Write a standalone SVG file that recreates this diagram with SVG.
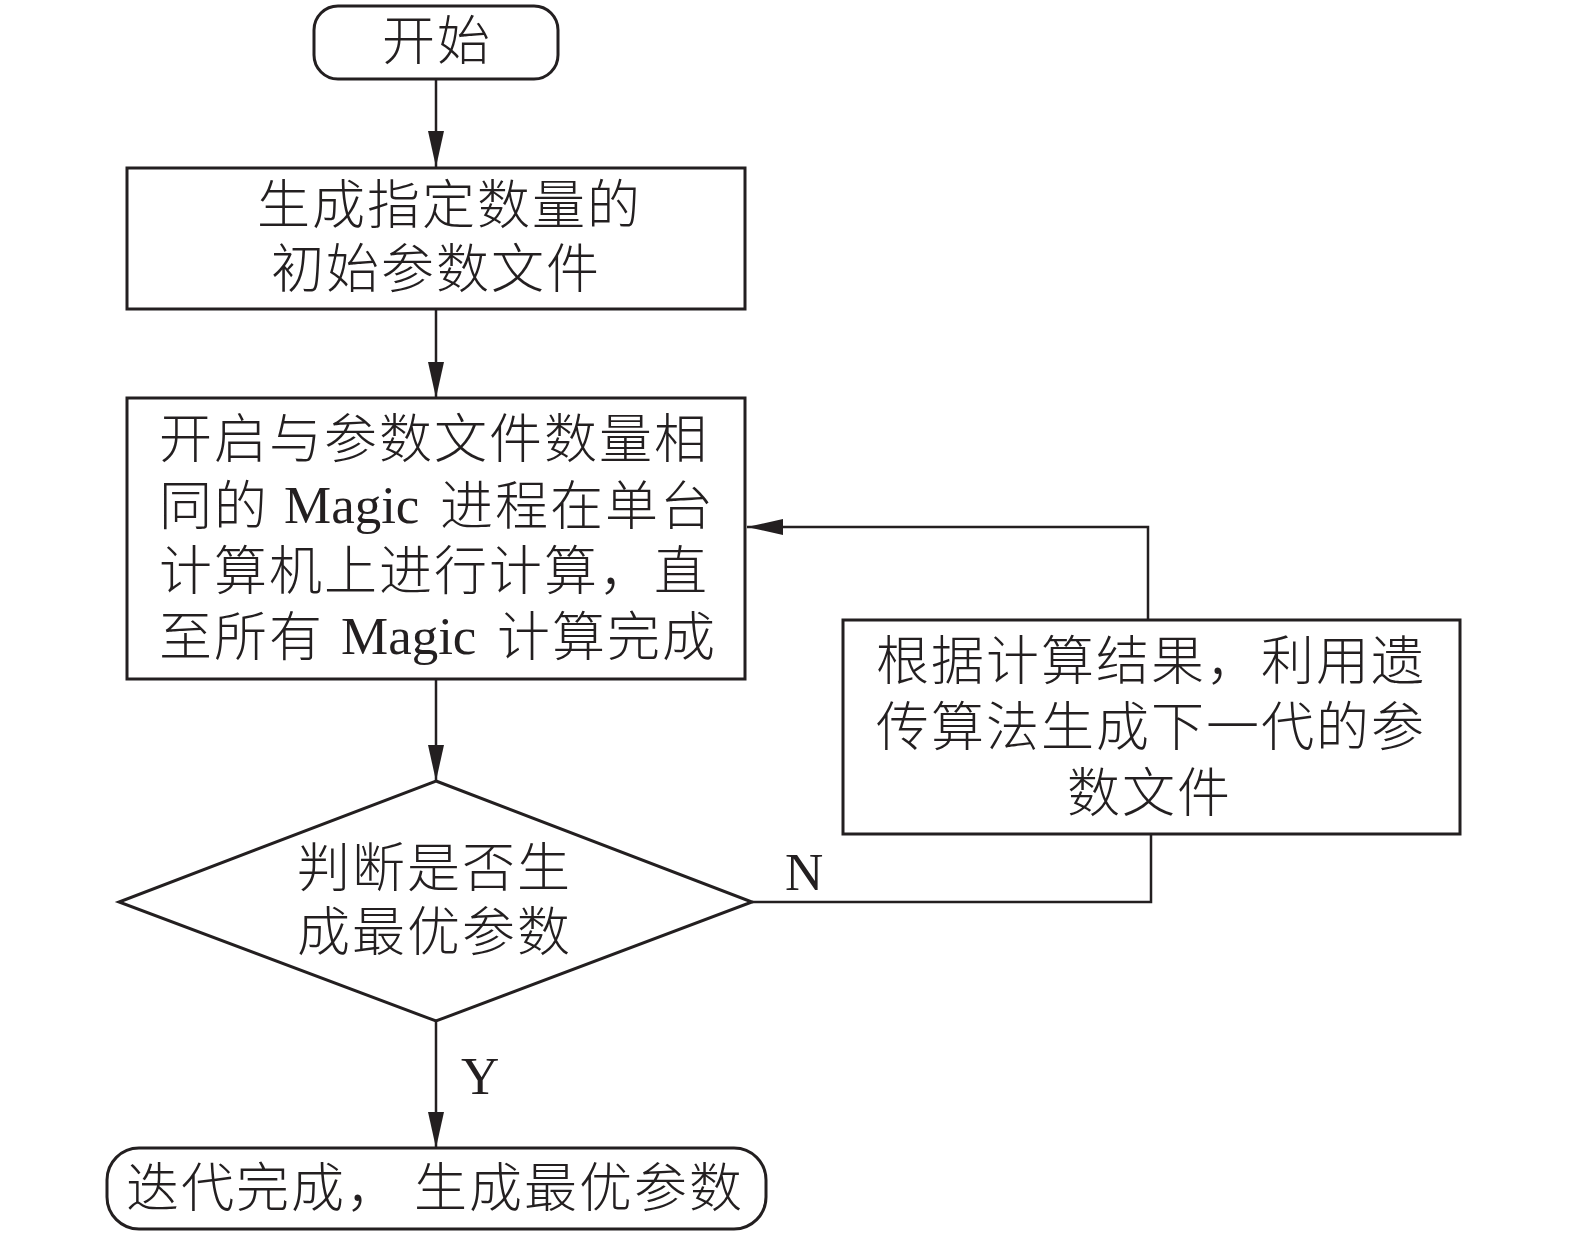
<svg xmlns="http://www.w3.org/2000/svg" width="1575" height="1242" viewBox="0 0 1575 1242">
<style>
.box{fill:#fff;stroke:#231f20;stroke-width:3}
.ln{fill:none;stroke:#231f20;stroke-width:2.5}
.zh{font-family:"Noto Sans CJK SC","Noto Sans CJK TC",sans-serif;font-size:53px;letter-spacing:2px;font-weight:300;fill:#231f20}
.en{font-family:"Liberation Serif",serif;font-size:53px;fill:#231f20}
</style>
<defs>
<marker id="arr" markerUnits="userSpaceOnUse" markerWidth="36" markerHeight="16" viewBox="0 0 36 16" refX="36" refY="8" orient="auto">
<path d="M0,0 L36,8 L0,16 z" fill="#231f20"/>
</marker>
</defs>
<rect width="1575" height="1242" fill="#fff"/>
<g id="connectors">
<line class="ln" x1="436" y1="79" x2="436" y2="167" marker-end="url(#arr)"/>
<line class="ln" x1="436" y1="309" x2="436" y2="398" marker-end="url(#arr)"/>
<line class="ln" x1="436" y1="679" x2="436" y2="781" marker-end="url(#arr)"/>
<line class="ln" x1="436" y1="1021" x2="436" y2="1148" marker-end="url(#arr)"/>
<polyline class="ln" points="752,902 1151,902 1151,834"/>
<polyline class="ln" points="1148,620 1148,527 747,527" marker-end="url(#arr)"/>
<text class="en" x="785" y="890" font-size="50">N</text>
<text class="en" x="461" y="1094" font-size="50">Y</text>
</g>
<g id="start">
<rect class="box" x="314" y="6" width="244" height="73" rx="24" ry="24"/>
<text class="zh" x="382" y="60">开始</text>
</g>
<g id="gen-init">
<rect class="box" x="127" y="168" width="618" height="141"/>
<text class="zh" x="257" y="224">生成指定数量的</text>
<text class="zh" x="271" y="288">初始参数文件</text>
</g>
<g id="run-magic">
<rect class="box" x="127" y="398" width="618" height="281"/>
<text class="zh" x="159" y="458">开启与参数文件数量相</text>
<text class="zh" x="159" y="525">同的</text>
<text class="en" x="284" y="523">Magic</text>
<text class="zh" x="440" y="525">进程在单台</text>
<text class="zh" x="159" y="590">计算机上进行计算，直</text>
<text class="zh" x="159" y="656">至所有</text>
<text class="en" x="341" y="654">Magic</text>
<text class="zh" x="497" y="656">计算完成</text>
</g>
<g id="next-gen">
<rect class="box" x="843" y="620" width="617" height="214"/>
<text class="zh" x="876" y="680">根据计算结果，利用遗</text>
<text class="zh" x="876" y="746">传算法生成下一代的参</text>
<text class="zh" x="1067" y="812">数文件</text>
</g>
<g id="decision">
<polygon class="box" points="436,781 752,902 436,1021 119,902"/>
<text class="zh" x="297" y="887">判断是否生</text>
<text class="zh" x="297" y="951">成最优参数</text>
</g>
<g id="end">
<rect class="box" x="107" y="1148" width="659" height="81" rx="32" ry="32"/>
<text class="zh" x="126" y="1207">迭代完成，</text>
<text class="zh" x="414" y="1207">生成最优参数</text>
</g>
</svg>
